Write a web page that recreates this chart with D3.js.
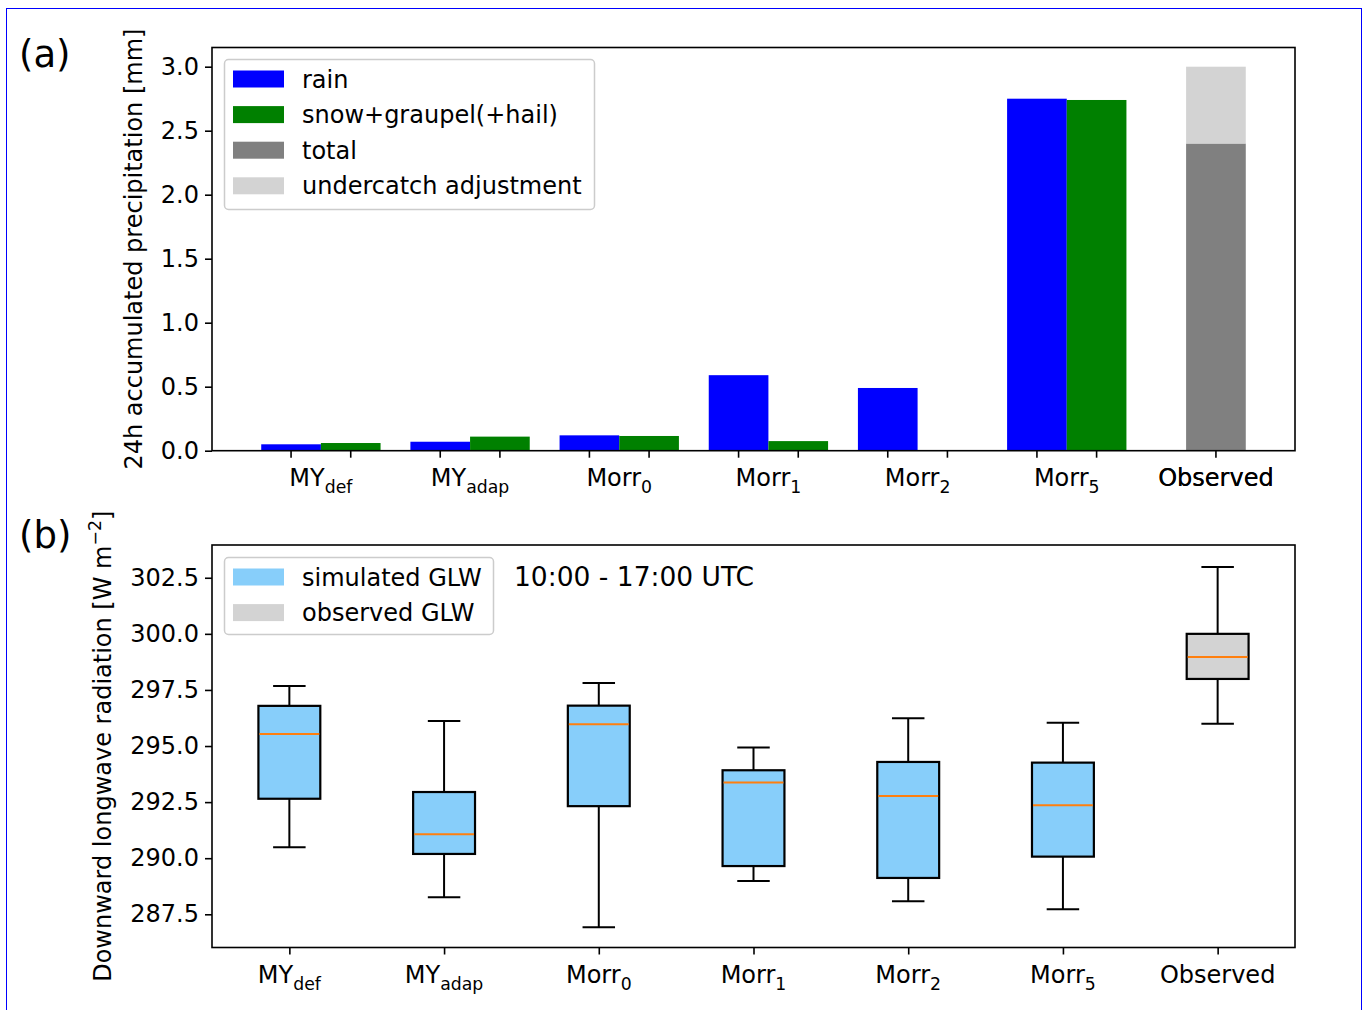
<!DOCTYPE html>
<html>
<head>
<meta charset="utf-8">
<script src="https://cdn.jsdelivr.net/npm/d3@7"></script>
<style>
  body { margin: 0; background: #fff; }
  svg { display: block; font-family: "DejaVu Sans", sans-serif; }
</style>
</head>
<body>
<svg id="chart" width="1368" height="1010"></svg>
<script>
// Category labels (base text + subscript)
const labelBase = ["MY", "MY", "Morr", "Morr", "Morr", "Morr", "Observed"];
const labelSub  = ["def", "adap", "0", "1", "2", "5", ""];

// (a) 24h accumulated precipitation [mm]
const rainValues = [0.05, 0.07, 0.12, 0.59, 0.49, 2.75];
const snowValues = [0.06, 0.11, 0.115, 0.075, 0.0, 2.74];
const observedTotal = 2.40;
const observedAdjusted = 3.00;
const precipTicks = [0.0, 0.5, 1.0, 1.5, 2.0, 2.5, 3.0];

// (b) downward longwave radiation, 10:00 - 17:00 UTC
const whiskerLow  = [290.49, 288.26, 286.92, 288.98, 288.08, 287.72, 295.99];
const quartile1   = [292.65, 290.19, 292.32, 289.65, 289.12, 290.07, 297.99];
const medianGLW   = [295.54, 291.07, 295.97, 293.37, 292.77, 292.36, 298.97];
const quartile3   = [296.79, 292.95, 296.80, 293.92, 294.29, 294.26, 300.00];
const whiskerHigh = [297.68, 296.12, 297.81, 294.93, 296.24, 296.04, 302.98];
const glwTicks = [287.5, 290.0, 292.5, 295.0, 297.5, 300.0, 302.5];

const svg = d3.select("#chart");
const FS = 24;

// outer frame
svg.append("rect").attr("x", 6.5).attr("y", 8.5).attr("width", 1355).attr("height", 1010)
  .attr("fill", "none").attr("stroke", "#0000ff").attr("stroke-width", 1);

function labelText(sel, i) {
  sel.append("tspan").text(labelBase[i]);
  if (labelSub[i]) {
    sel.append("tspan").attr("font-size", FS * 0.72).attr("dy", 7).text(labelSub[i]);
  }
}

// ---------- panel (a) ----------
const ax = { left: 212, right: 1295, top: 47.5, bottom: 450.7 };
const xa = d3.scaleLinear().domain([-0.73, 6.53]).range([ax.left, ax.right]);
const ya = d3.scaleLinear().domain([0, 3.15]).range([ax.bottom, ax.top]);
const bw = 0.4;
const ga = svg.append("g");

ga.selectAll("rect.rain").data(rainValues).join("rect")
  .attr("x", (d, i) => xa(i - bw)).attr("width", xa(bw) - xa(0))
  .attr("y", d => ya(d)).attr("height", d => ya(0) - ya(d)).attr("fill", "#0000ff");
ga.selectAll("rect.snow").data(snowValues).join("rect")
  .attr("x", (d, i) => xa(i)).attr("width", xa(bw) - xa(0))
  .attr("y", d => ya(d)).attr("height", d => ya(0) - ya(d)).attr("fill", "#008000");
// observed: total + undercatch adjustment stacked
ga.append("rect").attr("x", xa(6 - bw / 2)).attr("width", xa(bw) - xa(0))
  .attr("y", ya(observedTotal)).attr("height", ya(0) - ya(observedTotal)).attr("fill", "#808080");
ga.append("rect").attr("x", xa(6 - bw / 2)).attr("width", xa(bw) - xa(0))
  .attr("y", ya(observedAdjusted)).attr("height", ya(observedTotal) - ya(observedAdjusted)).attr("fill", "#d3d3d3");

// spines
ga.append("rect").attr("x", ax.left).attr("y", ax.top).attr("width", ax.right - ax.left)
  .attr("height", ax.bottom - ax.top).attr("fill", "none").attr("stroke", "#000").attr("stroke-width", 1.6);

// y axis
const yAxisA = d3.axisLeft(ya).tickValues(precipTicks).tickFormat(d3.format(".1f")).tickSize(7).tickPadding(6);
ga.append("g").attr("transform", `translate(${ax.left},0)`).call(yAxisA)
  .call(g => g.select(".domain").remove())
  .call(g => g.selectAll("line").attr("stroke-width", 1.6))
  .call(g => g.selectAll("text").attr("font-size", FS).attr("font-family", "DejaVu Sans").attr("fill", "#000"));

// x ticks at each bar centre
const barCentres = [];
rainValues.forEach((d, i) => { barCentres.push(i - bw / 2, i + bw / 2); });
barCentres.push(6);
ga.selectAll("line.xt").data(barCentres).join("line")
  .attr("x1", d => xa(d)).attr("x2", d => xa(d)).attr("y1", ax.bottom).attr("y2", ax.bottom + 7)
  .attr("stroke", "#000").attr("stroke-width", 1.6);
labelBase.forEach((b, i) => {
  const t = ga.append("text").attr("x", xa(i)).attr("y", 486).attr("text-anchor", "middle")
    .attr("font-size", FS).attr("fill", "#000");
  labelText(t, i);
});
// category label under the observed bar (drawn over itself)
ga.append("text").attr("x", xa(6)).attr("y", 486).attr("text-anchor", "middle")
  .attr("font-size", FS).attr("fill", "#000").text(labelBase[6]);

// y label
ga.append("text").attr("transform", `translate(134,${(ax.top + ax.bottom) / 2}) rotate(-90)`)
  .attr("text-anchor", "middle").attr("dy", "0.35em").attr("font-size", FS)
  .text("24h accumulated precipitation [mm]");

// legend (a)
const legA = [
  { name: "rain", color: "#0000ff" },
  { name: "snow+graupel(+hail)", color: "#008000" },
  { name: "total", color: "#808080" },
  { name: "undercatch adjustment", color: "#d3d3d3" }
];
ga.append("rect").attr("x", 224.5).attr("y", 59.5).attr("width", 370).attr("height", 150)
  .attr("rx", 4).attr("fill", "#fff").attr("fill-opacity", 0.8).attr("stroke", "#cccccc").attr("stroke-width", 1.5);
legA.forEach((e, i) => {
  const cy = 79 + i * 35.6;
  ga.append("rect").attr("x", 233).attr("y", cy - 8.5).attr("width", 51).attr("height", 17).attr("fill", e.color);
  ga.append("text").attr("x", 302).attr("y", cy).attr("dy", "0.36em").attr("font-size", FS).text(e.name);
});

svg.append("text").attr("x", 19).attr("y", 67).attr("font-size", 37).text("(a)");

// ---------- panel (b) ----------
const bx = { left: 212, right: 1295, top: 545, bottom: 947.5 };
const xb = d3.scaleLinear().domain([0.5, 7.5]).range([bx.left, bx.right]);
const yb = d3.scaleLinear().domain([286.02, 303.96]).range([bx.bottom, bx.top]);
const gb = svg.append("g");
const boxW = 0.4, capW = 0.2;
const boxes = medianGLW.map((m, i) => ({
  pos: i + 1, lo: whiskerLow[i], q1: quartile1[i], med: m, q3: quartile3[i], hi: whiskerHigh[i],
  fill: i === 6 ? "#d3d3d3" : "#87cefa"
}));

const bg = gb.selectAll("g.box").data(boxes).join("g");
// whiskers
bg.append("line").attr("x1", d => xb(d.pos)).attr("x2", d => xb(d.pos))
  .attr("y1", d => yb(d.q1)).attr("y2", d => yb(d.lo)).attr("stroke", "#000").attr("stroke-width", 2);
bg.append("line").attr("x1", d => xb(d.pos)).attr("x2", d => xb(d.pos))
  .attr("y1", d => yb(d.q3)).attr("y2", d => yb(d.hi)).attr("stroke", "#000").attr("stroke-width", 2);
// caps
bg.append("line").attr("x1", d => xb(d.pos - capW / 2 - 0.005)).attr("x2", d => xb(d.pos + capW / 2 + 0.005))
  .attr("y1", d => yb(d.lo)).attr("y2", d => yb(d.lo)).attr("stroke", "#000").attr("stroke-width", 2);
bg.append("line").attr("x1", d => xb(d.pos - capW / 2 - 0.005)).attr("x2", d => xb(d.pos + capW / 2 + 0.005))
  .attr("y1", d => yb(d.hi)).attr("y2", d => yb(d.hi)).attr("stroke", "#000").attr("stroke-width", 2);
// boxes
bg.append("rect").attr("x", d => xb(d.pos - boxW / 2)).attr("width", xb(boxW) - xb(0))
  .attr("y", d => yb(d.q3)).attr("height", d => yb(d.q1) - yb(d.q3))
  .attr("fill", d => d.fill).attr("stroke", "#000").attr("stroke-width", 2.2);
// medians
bg.append("line").attr("x1", d => xb(d.pos - boxW / 2) + 1).attr("x2", d => xb(d.pos + boxW / 2) - 1)
  .attr("y1", d => yb(d.med)).attr("y2", d => yb(d.med)).attr("stroke", "#ff7f0e").attr("stroke-width", 2);

gb.append("rect").attr("x", bx.left).attr("y", bx.top).attr("width", bx.right - bx.left)
  .attr("height", bx.bottom - bx.top).attr("fill", "none").attr("stroke", "#000").attr("stroke-width", 1.6);

const yAxisB = d3.axisLeft(yb).tickValues(glwTicks).tickFormat(d3.format(".1f")).tickSize(7).tickPadding(6);
gb.append("g").attr("transform", `translate(${bx.left},0)`).call(yAxisB)
  .call(g => g.select(".domain").remove())
  .call(g => g.selectAll("line").attr("stroke-width", 1.6))
  .call(g => g.selectAll("text").attr("font-size", FS).attr("font-family", "DejaVu Sans").attr("fill", "#000"));

const xAxisB = d3.axisBottom(xb).tickValues(d3.range(1, 8)).tickFormat("").tickSize(7);
gb.append("g").attr("transform", `translate(0,${bx.bottom})`).call(xAxisB)
  .call(g => g.select(".domain").remove())
  .call(g => g.selectAll("line").attr("stroke-width", 1.6));
labelBase.forEach((b, i) => {
  const t = gb.append("text").attr("x", xb(i + 1)).attr("y", 983).attr("text-anchor", "middle")
    .attr("font-size", FS).attr("fill", "#000");
  labelText(t, i);
});

const yl = gb.append("text").attr("transform", `translate(103,${(bx.top + bx.bottom) / 2}) rotate(-90)`)
  .attr("text-anchor", "middle").attr("dy", "0.35em").attr("font-size", FS);
yl.append("tspan").text("Downward longwave radiation [W m");
yl.append("tspan").attr("dy", -10).attr("font-size", FS * 0.72).text("\u22122");
yl.append("tspan").attr("dy", 10).text("]");

// legend (b)
const legB = [
  { name: "simulated GLW", color: "#87cefa" },
  { name: "observed GLW", color: "#d3d3d3" }
];
gb.append("rect").attr("x", 224.5).attr("y", 557.5).attr("width", 269).attr("height", 77)
  .attr("rx", 4).attr("fill", "#fff").attr("fill-opacity", 0.8).attr("stroke", "#cccccc").attr("stroke-width", 1.5);
legB.forEach((e, i) => {
  const cy = 577 + i * 35.6;
  gb.append("rect").attr("x", 233).attr("y", cy - 8.5).attr("width", 51).attr("height", 17).attr("fill", e.color);
  gb.append("text").attr("x", 302).attr("y", cy).attr("dy", "0.36em").attr("font-size", FS).text(e.name);
});
gb.append("text").attr("x", 514).attr("y", 576).attr("dy", "0.36em").attr("font-size", 26.5).text("10:00 - 17:00 UTC");

svg.append("text").attr("x", 19).attr("y", 548).attr("font-size", 37).text("(b)");
</script>
</body>
</html>
